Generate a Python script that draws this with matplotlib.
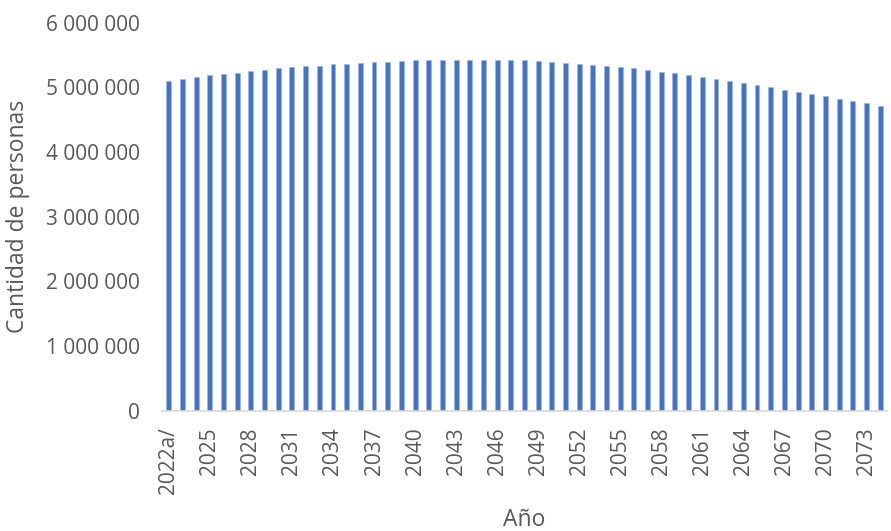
import matplotlib
matplotlib.use("Agg")
import matplotlib.pyplot as plt
from matplotlib.ticker import FuncFormatter

# ---- data ----
years = list(range(2022, 2075))
year_labels = ["2022a/"] + [str(y) for y in years[1:]]
population = [
    5093000, 5124000, 5155000, 5181000, 5201000, 5227000, 5247000, 5267000,
    5289000, 5309000, 5325000, 5335000, 5351000, 5360000, 5371000, 5386000,
    5397000, 5402000, 5413000, 5417000, 5422000, 5428000, 5428000, 5428000,
    5428000, 5417000, 5413000, 5402000, 5386000, 5376000, 5360000, 5345000,
    5325000, 5309000, 5289000, 5263000, 5236000, 5212000, 5185000, 5155000,
    5124000, 5093000, 5062000, 5031000, 5000000, 4964000, 4927000, 4892000,
    4861000, 4819000, 4784000, 4748000, 4706000,
]
y_ticks = [0, 1000000, 2000000, 3000000, 4000000, 5000000, 6000000]

plt.rcParams['font.family'] = ['Open Sans', 'DejaVu Sans']
grey = '#595959'

fig = plt.figure(figsize=(8.91, 5.31), dpi=100)
ax = fig.add_axes([0.1818, 0.2269, 0.8137, 0.7307])

x = list(range(len(years)))
ax.bar(x, population, width=0.36, color='#4472C4', edgecolor='#9DB5E2', linewidth=0.4)

ax.set_xlim(-0.5, len(years) - 0.5)
ax.set_ylim(0, 6000000)
ax.set_yticks(y_ticks)
ax.yaxis.set_major_formatter(FuncFormatter(lambda v, p: f"{int(v):,}".replace(",", " ")))

tick_idx = x[::3]
ax.set_xticks(tick_idx)
ax.set_xticklabels([year_labels[i] for i in tick_idx], rotation=90, va='top', ha='center')

ax.tick_params(axis='both', length=0, colors=grey, labelsize=15)
ax.tick_params(axis='y', pad=16)
ax.tick_params(axis='x', pad=12)

for s in ['top', 'right', 'left']:
    ax.spines[s].set_visible(False)
ax.spines['bottom'].set_color('#D9D9D9')
ax.spines['bottom'].set_linewidth(1.2)

ax.set_ylabel("Cantidad de personas", fontsize=16.5, color=grey, va='center')
ax.yaxis.set_label_coords(-0.199, 0.5)
ax.set_xlabel("Año", fontsize=16.5, color=grey, va='center')
ax.xaxis.set_label_coords(0.5, -0.282)

fig.savefig("out.png", dpi=100)
